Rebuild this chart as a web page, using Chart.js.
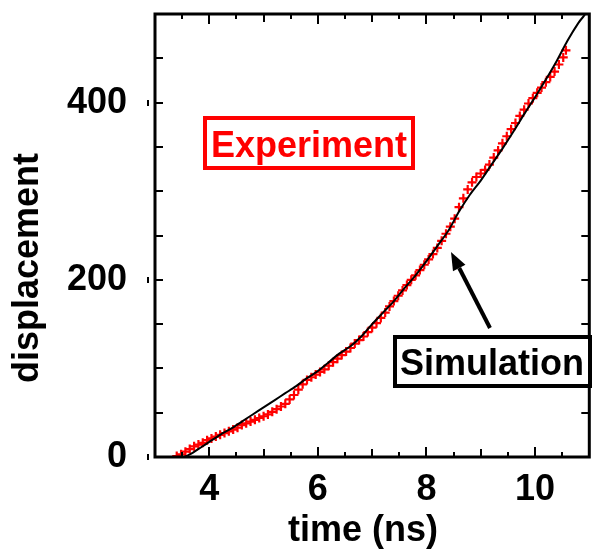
<!DOCTYPE html>
<html><head><meta charset="utf-8">
<script src="https://cdn.jsdelivr.net/npm/chart.js@4"></script>
<style>html,body{margin:0;padding:0;background:#fff}#wrap{width:596px;height:554px;position:relative}</style>
</head><body><div id="wrap"><canvas id="c"></canvas></div>
<script>
// ---- data ----
const xTickLabels = [4, 6, 8, 10];
const yTickLabels = [0, 200, 400];
const xTitle = 'time (ns)';
const yTitle = 'displacement';
const expLabel = 'Experiment';
const simLabel = 'Simulation';

const simTime = [3.55,3.7,3.85,4.0,4.2,4.4,4.6,4.8,5.0,5.2,5.4,5.6,5.8,6.0,6.2,6.4,6.6,6.8,7.0,7.2,7.4,7.6,7.8,8.0,8.2,8.4,8.6,8.8,9.0,9.2,9.4,9.6,9.8,10.0,10.2,10.4,10.6,10.8,10.93];
const simDisp = [0,5,11,17,25,32,40,48,56,64,72,80,89,97,107,117,125,136,150,163,176,191,205,221,238,255,277,296,312,330,348,367,387,406,426,447,470,490,500];

const expTime = [3.40,3.48,3.56,3.64,3.72,3.80,3.88,3.96,4.04,4.12,4.20,4.28,4.36,4.44,4.52,4.60,4.68,4.76,4.84,4.92,5.00,5.08,5.16,5.24,5.32,5.40,5.48,5.56,5.64,5.72,5.80,5.88,5.96,6.04,6.12,6.20,6.28,6.36,6.44,6.52,6.60,6.68,6.76,6.84,6.92,7.00,7.08,7.16,7.24,7.32,7.40,7.48,7.56,7.64,7.72,7.80,7.88,7.96,8.04,8.12,8.20,8.28,8.36,8.44,8.52,8.60,8.68,8.76,8.84,8.92,9.00,9.08,9.16,9.24,9.32,9.40,9.48,9.56,9.64,9.72,9.80,9.88,9.96,10.04,10.12,10.20,10.28,10.36,10.44,10.52,10.57];
const expDisp = [1,3,6,9,12,14,16,19,21,23,25,27,29,31,33,36,38,40,42,44,46,48,51,54,57,60,65,70,76,82,87,90,93,96,99,103,107,111,115,119,123,128,132,136,141,146,151,157,163,170,176,182,188,194,200,205,211,217,223,229,236,244,252,260,269,282,292,302,310,316,320,324,330,338,346,354,362,370,377,385,392,399,405,411,417,423,429,435,443,451,459];

const FONT = '"Liberation Sans", Arial, Helvetica, sans-serif';

function line(ctx, x1, y1, x2, y2) { ctx.beginPath(); ctx.moveTo(x1, y1); ctx.lineTo(x2, y2); ctx.stroke(); }

function noPad(s) { s.paddingTop = 0; s.paddingBottom = 0; s.paddingLeft = 0; s.paddingRight = 0; }

const decor = {
  id: 'decor',
  beforeDraw(chart) {
    const ctx = chart.ctx;
    ctx.save(); ctx.fillStyle = '#fff'; ctx.fillRect(0, 0, chart.width, chart.height); ctx.restore();
  },
  afterDatasetsDraw(chart) {
    const { ctx, chartArea: a, scales: { x, y } } = chart;
    ctx.save();
    ctx.strokeStyle = '#000';
    ctx.lineWidth = 2;
    x.ticks.forEach(t => {
      const v = t.value;
      if (v <= x.min || v >= x.max) return;
      const px = Math.round(x.getPixelForValue(v));
      const len = Math.abs(v % 2) < 1e-6 ? 10 : (Math.abs(v % 1) < 1e-6 ? 8 : 5);
      line(ctx, px, a.bottom, px, a.bottom - len);
      line(ctx, px, a.top, px, a.top + len);
    });
    y.ticks.forEach(t => {
      const v = t.value;
      if (v <= y.min || v >= y.max) return;
      const py = Math.round(y.getPixelForValue(v));
      line(ctx, a.left, py, a.left + 8, py);
      line(ctx, a.right, py, a.right - 8, py);
    });
    ctx.fillStyle = '#000';
    yTickLabels.forEach(v => {
      const py = Math.round(y.getPixelForValue(v));
      ctx.fillRect(a.left - 8, py - 3, 2, 6);
    });
    ctx.lineWidth = 3;
    ctx.strokeRect(a.left, a.top, a.width, a.height);

    // axis titles
    ctx.font = 'bold 36px ' + FONT;
    ctx.fillStyle = '#000';
    ctx.textAlign = 'center';
    ctx.textBaseline = 'middle';
    ctx.fillText(xTitle, 363, 531);
    ctx.save();
    ctx.translate(28, 268);
    ctx.rotate(-Math.PI / 2);
    ctx.fillText(yTitle, 0, 0);
    ctx.restore();

    // Experiment label box
    ctx.strokeStyle = '#ff0000';
    ctx.lineWidth = 4;
    ctx.strokeRect(205, 118, 208, 50);
    ctx.fillStyle = '#ff0000';
    ctx.textBaseline = 'alphabetic';
    ctx.fillText(expLabel, 309, 157);

    // Simulation label box
    ctx.strokeStyle = '#000';
    ctx.fillStyle = '#fff';
    ctx.fillRect(395, 337, 195, 49);
    ctx.strokeRect(395, 337, 195, 49);
    ctx.fillStyle = '#000';
    ctx.fillText(simLabel, 492, 375);

    // arrow
    const tx = 490, ty = 328, hx = 451, hy = 252;
    const ang = Math.atan2(hy - ty, hx - tx);
    const hl = 18, hw = 7;
    const bx = hx - hl * Math.cos(ang), by = hy - hl * Math.sin(ang);
    ctx.lineWidth = 4;
    line(ctx, tx, ty, bx, by);
    ctx.beginPath();
    ctx.moveTo(hx, hy);
    ctx.lineTo(bx + hw * Math.sin(ang), by - hw * Math.cos(ang));
    ctx.lineTo(bx - hw * Math.sin(ang), by + hw * Math.cos(ang));
    ctx.closePath();
    ctx.fill();
    ctx.restore();
  }
};

new Chart(document.getElementById('c'), {
  type: 'scatter',
  data: {
    datasets: [
      {
        label: simLabel,
        data: simTime.map((t, i) => ({ x: t, y: simDisp[i] })),
        showLine: true,
        borderColor: '#000',
        borderWidth: 2,
        pointRadius: 0,
        tension: 0.3
      },
      {
        label: expLabel,
        data: expTime.map((t, i) => ({ x: t, y: expDisp[i] })),
        showLine: false,
        pointStyle: 'cross',
        pointRadius: 4.5,
        borderColor: '#ff0000',
        borderWidth: 2.2
      }
    ]
  },
  options: {
    responsive: true,
    maintainAspectRatio: false,
    animation: false,
    devicePixelRatio: 1,
    layout: { padding: { top: 14, right: 4, left: 0, bottom: 0 } },
    plugins: { legend: { display: false }, tooltip: { enabled: false } },
    scales: {
      x: {
        type: 'linear', min: 3, max: 11,
        grid: { display: false, drawTicks: false },
        border: { display: false },
        ticks: {
          stepSize: 0.5, autoSkip: false, maxRotation: 0, padding: 11,
          color: '#000', font: { family: FONT, size: 36, weight: 'bold' },
          callback: v => xTickLabels.includes(v) ? String(v) : ''
        },
        afterFit: s => { s.height = 97; noPad(s); }
      },
      y: {
        type: 'linear', min: 0, max: 500,
        grid: { display: false, drawTicks: false },
        border: { display: false },
        ticks: {
          stepSize: 50, autoSkip: false, padding: 28,
          color: '#000', font: { family: FONT, size: 36, weight: 'bold' },
          callback: v => yTickLabels.includes(v) ? String(v) : ''
        },
        afterFit: s => { s.width = 155; noPad(s); }
      }
    }
  },
  plugins: [decor]
});
</script>
</body></html>
